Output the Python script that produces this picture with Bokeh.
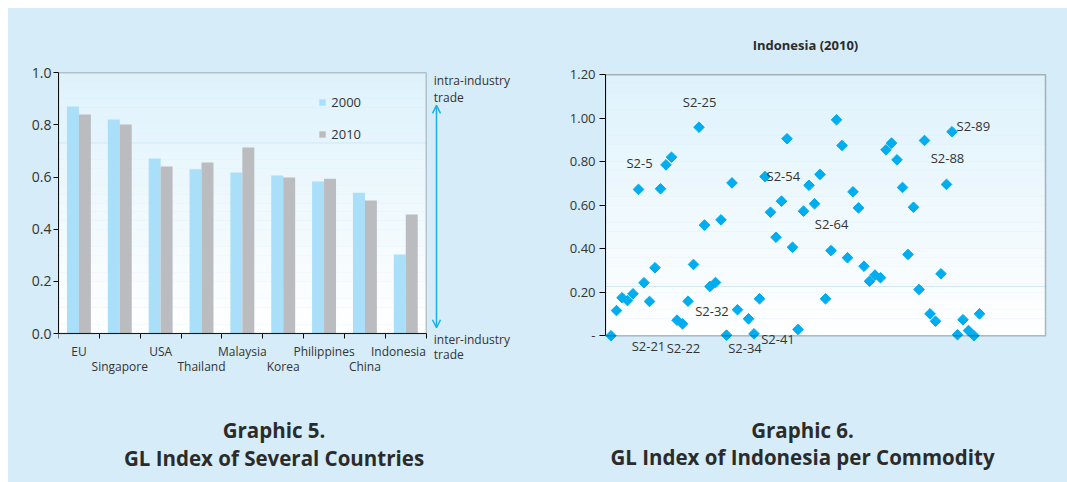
import numpy as np
from bokeh.plotting import figure
from bokeh.models import (Range1d, FixedTicker, Legend, LegendItem, Label, LinearAxis,
                          BoxAnnotation, Span, Arrow, OpenHead, NumeralTickFormatter)
from bokeh.layouts import row
from bokeh.embed import file_html
from bokeh.resources import INLINE

# ---------------- data ----------------
countries = ["EU", "Singapore", "USA", "Thailand", "Malaysia", "Korea",
             "Philippines", "China", "Indonesia"]
gl_2000 = [0.871, 0.821, 0.671, 0.630, 0.618, 0.606, 0.583, 0.540, 0.303]
gl_2010 = [0.840, 0.802, 0.641, 0.656, 0.713, 0.598, 0.594, 0.510, 0.456]
years = ["2000", "2010"]

commodity_idx = list(range(1, 25)) + list(range(26, 69))
gl_indonesia_2010 = [
    0.000, 0.116, 0.175, 0.162, 0.193, 0.673, 0.244, 0.158, 0.313, 0.676,
    0.786, 0.821, 0.072, 0.055, 0.159, 0.328, 0.959, 0.509, 0.227, 0.245,
    0.533, 0.003, 0.703, 0.120,
    0.078, 0.009, 0.170, 0.732, 0.568, 0.453, 0.619, 0.906, 0.407, 0.029,
    0.573, 0.692, 0.607, 0.742, 0.170, 0.392, 0.993, 0.875, 0.359, 0.662,
    0.588, 0.320, 0.251, 0.279, 0.267, 0.855, 0.886, 0.809, 0.682, 0.374,
    0.591, 0.213, 0.898, 0.101, 0.067, 0.285, 0.696, 0.938, 0.005, 0.074,
    0.024, 0.000, 0.101]
label_names = ["S2-5", "S2-25", "S2-21", "S2-22", "S2-32", "S2-34", "S2-41",
               "S2-54", "S2-64", "S2-88", "S2-89"]
label_points = [6, 17, 8, 14, 19, 27, 35, 29, 41, 62, 63]

# ---------------- styles ----------------
BG = "#d6edf9"
C2000 = "#aadff9"
C2010 = "#bbbcc0"
DIAM = "#00adef"
ARROW = "#1aaeea"
TXT = "#333333"
TITLE = "#2b2b2b"
FONT = "Open Sans"
# per-label (dx, dy_down, align) in pixels
label_style = [(1, -26, "center"), (0.6, -25, "center"), (-1, 45, "center"),
               (1, 24, "center"), (2, 25, "center"), (-9, 14, "center"),
               (-20, 10, "center"), (1.5, -1, "left"), (0.6, -27, "center"),
               (1, -26, "center"), (4.5, -6, "left")]
# horizontal nudges of category labels (in category units)
cat_label_shift = {"Indonesia": -0.18}


def gradient(p, x0, x1, y0, y1, n=30):
    top = np.array([222, 242, 252])
    bot = np.array([255, 255, 255])
    edges = np.linspace(y0, y1, n + 1)
    for i in range(n):
        t = (i + 0.5) / n
        c = bot + (top - bot) * t
        col = "#%02x%02x%02x" % tuple(int(round(v)) for v in c)
        p.add_layout(BoxAnnotation(left=x0, right=x1, bottom=edges[i], top=edges[i + 1],
                                   fill_color=col, fill_alpha=1.0, line_color=None,
                                   level="underlay"))


def txt(p, x, y, s, size="12px", bold=False, align="left", color=TXT):
    p.add_layout(Label(x=x, y=y, text=s, text_font=FONT, text_font_size=size,
                       text_font_style="bold" if bold else "normal",
                       text_align=align, text_baseline="alphabetic", text_color=color))


def base_fig(width, xr, yr, left):
    p = figure(width=width, height=474, x_range=Range1d(*xr), y_range=Range1d(*yr),
               output_backend="svg", toolbar_location=None,
               min_border_left=left, min_border_right=0, min_border_top=0,
               min_border_bottom=0)
    p.title.visible = False
    p.border_fill_color = BG
    p.background_fill_color = BG
    p.outline_line_color = None
    p.grid.visible = False
    return p


# ---------------- left chart ----------------
n = len(countries)
centers = np.arange(n) + 0.5
bw = 0.293
label_pos = [c + cat_label_shift.get(name, 0.0) for c, name in zip(centers, countries)]

p1 = base_fig(522, (0, 11.553), (-0.5715, 1.2466), 50)
gradient(p1, 0, n, 0, 1)
p1.add_layout(BoxAnnotation(left=0, right=n, bottom=0, top=1, fill_alpha=0,
                            line_color="#555555", line_width=1.5))
p1.add_layout(Span(location=0.731, dimension="width", line_color="#cfe8f5",
                   line_width=1, level="underlay"))
p1.add_layout(BoxAnnotation(left=n + 0.02, bottom=0.70, top=0.76, fill_color=BG,
                            fill_alpha=1.0, line_color=None, level="underlay"))

r0 = p1.vbar(x=centers - bw / 2, top=gl_2000, width=bw, fill_color=C2000, line_color=None)
r1 = p1.vbar(x=centers + bw / 2, top=gl_2010, width=bw, fill_color=C2010, line_color=None)

legend = Legend(items=[LegendItem(label=years[0], renderers=[r0]),
                       LegendItem(label=years[1], renderers=[r1])],
                location=(260.3, 339.5), orientation="vertical",
                glyph_width=8, glyph_height=8, label_height=16, label_standoff=5,
                spacing=14, padding=0, margin=0,
                label_text_font=FONT, label_text_font_size="13px", label_text_color=TXT,
                border_line_color=None, background_fill_alpha=0)
p1.add_layout(legend)

xa = p1.xaxis[0]
xa.fixed_location = 0
xa.bounds = (0, n)
xa.ticker = FixedTicker(ticks=[float(v) for v in label_pos[0::2]],
                        minor_ticks=list(range(n + 1)))
xa.major_label_overrides = {float(c): lab for c, lab in zip(label_pos[0::2], countries[0::2])}
xa.major_tick_line_color = None
xa.major_tick_out = 5
xa.major_tick_in = 0
xa.minor_tick_out = 5
xa.minor_tick_in = 0
xa.minor_tick_line_color = "black"
xa.axis_line_color = "black"
xa.major_label_standoff = 4
xa.major_label_text_font = FONT
xa.major_label_text_font_size = "12px"
xa.major_label_text_color = TXT

xb = LinearAxis(fixed_location=0, bounds=(0, n),
                ticker=FixedTicker(ticks=[float(v) for v in label_pos[1::2]]),
                major_label_overrides={float(c): lab for c, lab in zip(label_pos[1::2], countries[1::2])},
                major_tick_line_color=None, major_tick_out=5, major_tick_in=0,
                minor_tick_line_color=None, axis_line_color=None,
                major_label_standoff=19, major_label_text_font=FONT,
                major_label_text_font_size="12px", major_label_text_color=TXT)
p1.add_layout(xb, "below")

ya = p1.yaxis[0]
ya.bounds = (0, 1)
ya.ticker = FixedTicker(ticks=[0, 0.2, 0.4, 0.6, 0.8, 1.0])
ya.formatter = NumeralTickFormatter(format="0.0")
ya.major_tick_out = 5
ya.major_tick_in = 0
ya.minor_tick_line_color = None
ya.axis_line_color = "black"
ya.major_label_standoff = 2
ya.major_label_text_font = FONT
ya.major_label_text_font_size = "14px"
ya.major_label_text_color = TXT

p1.add_layout(Arrow(x_start=9.252, y_start=0.022, x_end=9.252, y_end=0.875,
                    line_color=ARROW, line_width=1.5,
                    start=OpenHead(size=8, line_color=ARROW, line_width=1.5),
                    end=OpenHead(size=8, line_color=ARROW, line_width=1.5)))
txt(p1, 9.186, 0.970, "intra-industry")
txt(p1, 9.186, 0.907, "trade")
txt(p1, 9.186, -0.023, "inter-industry")
txt(p1, 9.186, -0.081, "trade")
txt(p1, 5.275, -0.372, "Graphic 5.", size="20.5px", bold=True, align="center", color=TITLE)
txt(p1, 5.275, -0.4757, "GL Index of Several Countries", size="20.5px", bold=True,
    align="center", color=TITLE)

# ---------------- right chart ----------------
p2 = base_fig(537, (0, 84.0), (-0.6745, 1.5048), 75)
gradient(p2, 0, 80, 0, 1.2)
p2.add_layout(BoxAnnotation(left=0, right=80, bottom=0, top=1.2, fill_alpha=0,
                            line_color="#222222", line_width=1.5))
p2.add_layout(Span(location=0.227, dimension="width", line_color="#cfe8f5",
                   line_width=1, level="underlay"))
p2.add_layout(BoxAnnotation(left=80.2, bottom=0.2, top=0.25, fill_color=BG,
                            fill_alpha=1.0, line_color=None, level="underlay"))

p2.scatter(x=commodity_idx, y=gl_indonesia_2010, marker="square", size=7.5,
           angle=np.pi / 4, fill_color=DIAM, line_color=DIAM)

p2.xaxis.visible = False
ya2 = p2.yaxis[0]
ya2.bounds = (0, 1.2)
ya2.ticker = FixedTicker(ticks=[0, 0.2, 0.4, 0.6, 0.8, 1.0, 1.2])
ya2.formatter = NumeralTickFormatter(format="0.00")
ya2.major_label_overrides = {0: "-"}
ya2.major_tick_out = 6
ya2.major_tick_in = 0
ya2.minor_tick_line_color = None
ya2.axis_line_color = "black"
ya2.major_label_standoff = 4
ya2.major_label_text_font = FONT
ya2.major_label_text_font_size = "13px"
ya2.major_label_text_color = TXT

lookup = dict(zip(commodity_idx, gl_indonesia_2010))
for name, pt, (dx, dy, al) in zip(label_names, label_points, label_style):
    p2.add_layout(Label(x=pt, y=lookup[pt], text=name, x_offset=dx, y_offset=-dy,
                        text_font=FONT, text_font_size="13px", text_color=TXT,
                        text_align=al, text_baseline="middle"))

txt(p2, 36.36, 1.335, "Indonesia (2010)", size="13px", bold=True, align="center", color=TITLE)
txt(p2, 35.82, -0.4354, "Graphic 6.", size="20.5px", bold=True, align="center", color=TITLE)
txt(p2, 35.82, -0.5595, "GL Index of Indonesia per Commodity", size="20.5px", bold=True,
    align="center", color=TITLE)

layout = row(p1, p2, spacing=0, margin=(8, 0, 0, 8),
             styles={"background-color": BG})
open("out.html", "w").write(file_html(layout, INLINE))
